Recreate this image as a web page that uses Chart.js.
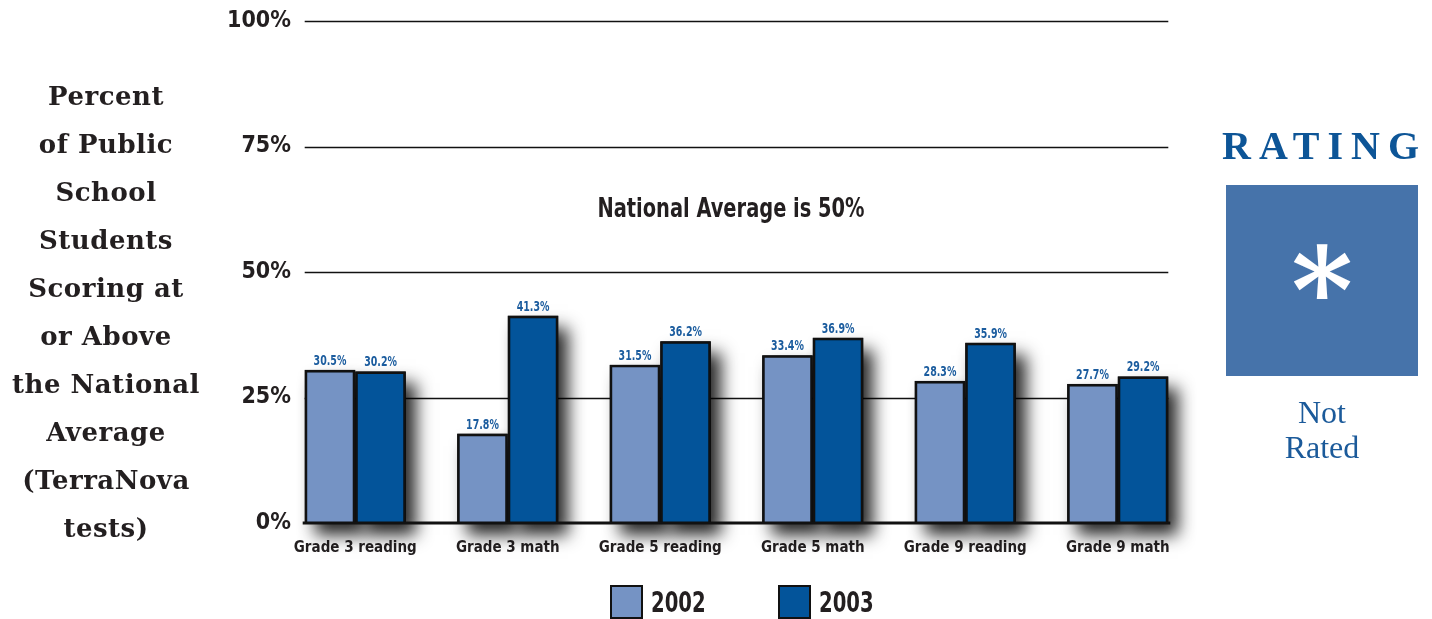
<!DOCTYPE html>
<html>
<head>
<meta charset="utf-8">
<script src="https://cdn.jsdelivr.net/npm/chart.js@4.4.1/dist/chart.umd.min.js"></script>
<style>
  html, body { margin:0; padding:0; background:#fff; }
  body { width:1432px; height:619px; position:relative; overflow:hidden; }
  #chart { position:absolute; left:0; top:0; }
  .ylabel {
    position:absolute; left:0; top:72px; width:212px; text-align:center;
    font:bold 26px "DejaVu Serif", serif; letter-spacing:0.5px; line-height:48px; color:#231f20;
  }
  .note {
    position:absolute; left:531px; width:400px; top:192px; text-align:center;
    font:bold 27px "DejaVu Sans Condensed", "DejaVu Sans", sans-serif; color:#231f20;
    transform:scaleX(0.8);
  }
  .legend { position:absolute; left:610px; top:585px; display:flex; }
  .legend__item { display:flex; align-items:center; width:168px;
    font:bold 28px "DejaVu Sans Condensed", "DejaVu Sans", sans-serif; color:#231f20; }
  .legend__item span.t { display:inline-block; transform:scaleX(0.78); transform-origin:left center; }
  .legend__swatch { width:29px; height:30px; border:2px solid #111; margin-right:8px; }
  .rating-title {
    position:absolute; left:1222px; top:122px; line-height:40px;
    font:bold 40px "Liberation Serif", serif; letter-spacing:8px; color:#0d5597;
  }
  .rating-box {
    position:absolute; left:1226px; top:185px; width:192px; height:191px; background:#4673aa;
    display:flex; align-items:center; justify-content:center;
    color:#fff; font:bold 118px "DejaVu Serif", serif; line-height:1;
  }
  .rating-box span { position:relative; top:10px; }
  .rating-text {
    position:absolute; left:1226px; top:395px; width:192px; text-align:center;
    font:32px "Liberation Serif", serif; line-height:35px; color:#1b5a9a;
  }
</style>
</head>
<body>
<canvas id="chart" width="1432" height="619"></canvas>
<div class="ylabel">Percent<br>of Public<br>School<br>Students<br>Scoring at<br>or Above<br>the National<br>Average<br>(TerraNova<br>tests)</div>
<div class="note">National Average is 50%</div>
<div class="legend" id="legend"></div>
<div class="rating-title">RATING</div>
<div class="rating-box"><span>*</span></div>
<div class="rating-text">Not<br>Rated</div>

<script>
// ---- data ----
const categories = ['Grade 3 reading','Grade 3 math','Grade 5 reading','Grade 5 math','Grade 9 reading','Grade 9 math'];
const seriesLabels = ['2002','2003'];
const scores2002 = [30.5, 17.8, 31.5, 33.4, 28.3, 27.7];
const scores2003 = [30.2, 41.3, 36.2, 36.9, 35.9, 29.2];
const yTicks = [0, 25, 50, 75, 100];
const colors = ['#7593c4', '#03549a'];

const COND = '"DejaVu Sans Condensed", "DejaVu Sans", sans-serif';
const INK = '#231f20';

// bar extent (left edge of first bar to right edge of last)
function barSpan(chart){
  const first = chart.getDatasetMeta(0).data[0];
  const last = chart.getDatasetMeta(chart.data.datasets.length-1).data.at(-1);
  return [first.x - first.width/2, last.x + last.width/2];
}

// y labels sit a bit inside the plot edge, widen the axis box after layout so they are not clipped
const yLabelEdge = {
  id: 'yLabelEdge',
  afterLayout(chart){
    const s = chart.scales.y;
    s.left = 150; s.right = 291;
  }
};

// gridlines + drop shadows under the bars
const underBars = {
  id: 'underBars',
  beforeDatasetsDraw(chart){
    const {ctx, scales:{y}} = chart;
    const [l, r] = barSpan(chart);
    ctx.save();
    ctx.strokeStyle = '#111'; ctx.lineWidth = 1.5;
    yTicks.filter(v => v > 0).forEach(v => {
      const py = Math.round(y.getPixelForValue(v)) + 0.5;
      ctx.beginPath(); ctx.moveTo(l, py); ctx.lineTo(r, py); ctx.stroke();
    });
    ctx.shadowColor = 'rgba(0,0,0,0.85)';
    ctx.shadowBlur = 16; ctx.shadowOffsetX = 10; ctx.shadowOffsetY = 12;
    ctx.fillStyle = '#000';
    chart.data.datasets.forEach((ds, i) => {
      chart.getDatasetMeta(i).data.forEach(b => {
        ctx.fillRect(b.x - b.width/2, b.y, b.width, b.base - b.y);
      });
    });
    ctx.restore();
  }
};

// value labels + baseline
const overBars = {
  id: 'overBars',
  afterDatasetsDraw(chart){
    const {ctx, scales:{y}} = chart;
    const [l, r] = barSpan(chart);
    ctx.save();
    ctx.strokeStyle = '#111'; ctx.lineWidth = 3;
    const py = y.getPixelForValue(0);
    ctx.beginPath(); ctx.moveTo(l - 2, py); ctx.lineTo(r + 2, py); ctx.stroke();

    ctx.font = `bold 14px ${COND}`;
    ctx.fillStyle = '#1b5c9e';
    ctx.textAlign = 'center'; ctx.textBaseline = 'alphabetic';
    chart.data.datasets.forEach((ds, i) => {
      chart.getDatasetMeta(i).data.forEach((b, j) => {
        ctx.save();
        ctx.translate(b.x, b.y - 5);
        ctx.scale(0.75, 1);
        ctx.fillText(ds.data[j].toFixed(1) + '%', 0, 0);
        ctx.restore();
      });
    });
    ctx.restore();
  }
};

const chart = new Chart(document.getElementById('chart'), {
  type: 'bar',
  data: {
    labels: categories,
    datasets: [
      { label: seriesLabels[0], data: scores2002, backgroundColor: colors[0] },
      { label: seriesLabels[1], data: scores2003, backgroundColor: colors[1] }
    ]
  },
  options: {
    responsive: false,
    animation: false,
    devicePixelRatio: 1,
    layout: { padding: { left: 219, right: 238, top: 21, bottom: 56 } },
    datasets: { bar: {
      categoryPercentage: 0.663, barPercentage: 1,
      borderColor: '#111', borderWidth: 2.5, borderSkipped: 'bottom', clip: false
    } },
    scales: {
      x: {
        grid: { display: false, drawTicks: false }, border: { display: false },
        ticks: { color: INK, font: { family: COND, size: 15, weight: 'bold' }, padding: 16, maxRotation: 0 },
        afterFit: s => { s.height = 40; }
      },
      y: {
        min: 0, max: 100,
        grid: { display: false, drawTicks: false }, border: { display: false },
        afterBuildTicks: s => { s.ticks = yTicks.map(v => ({ value: v })); },
        ticks: { color: INK, font: { family: COND, size: 23, weight: 'bold' }, padding: 0,
                 callback: v => v + '%' },
        afterFit: s => { s.width = 60; }
      }
    },
    plugins: { legend: { display: false }, tooltip: { enabled: false } }
  },
  plugins: [yLabelEdge, underBars, overBars]
});

// custom legend
const legend = document.getElementById('legend');
chart.data.datasets.forEach(ds => {
  const item = document.createElement('div'); item.className = 'legend__item';
  item.innerHTML = `<span class="legend__swatch" style="background:${ds.backgroundColor}"></span><span class="t">${ds.label}</span>`;
  legend.appendChild(item);
});
</script>
</body>
</html>
